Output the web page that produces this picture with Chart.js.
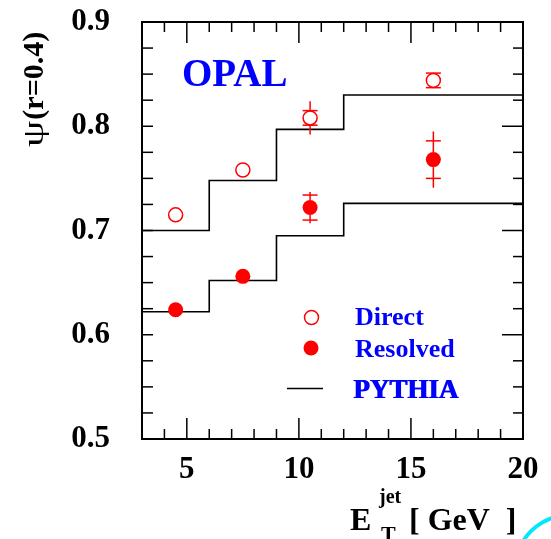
<!DOCTYPE html>
<html>
<head>
<meta charset="utf-8">
<script src="https://cdn.jsdelivr.net/npm/chart.js@4.4.0/dist/chart.umd.min.js"></script>
<style>
  html, body { margin: 0; padding: 0; background: #fff; }
  canvas { display: block; }
</style>
</head>
<body>
<canvas id="chart" width="551" height="539"></canvas>
<script>
// tick labels
const xTicks = [5, 10, 15, 20];
const yTicks = [0.5, 0.6, 0.7, 0.8, 0.9];

// measured points
const etJet = [4.5, 7.5, 10.5, 16];
const directPsi = [0.715, 0.758, 0.808, 0.844];
const directStat = [0, 0, 0.007, 0.007];
const directTot = [0, 0, 0.016, 0.007];
const resolvedPsi = [0.624, 0.656, 0.722, 0.768];
const resolvedStat = [0, 0, 0.012, 0.018];
const resolvedTot = [0, 0, 0.015, 0.027];

// PYTHIA histograms (bin edges and contents)
const binEdges = [3, 6, 9, 12, 20];
const pythiaDirect = [0.700, 0.748, 0.797, 0.830];
const pythiaResolved = [0.622, 0.652, 0.695, 0.726];

const RED = '#ff0000';
const BLUE = '#0000ff';
const SERIF = '"Liberation Serif", "DejaVu Serif", serif';

function stepData(vals) {
  // each edge starts its bin, last value repeated at the right edge
  return binEdges.map((e, i) => ({ x: e, y: vals[Math.min(i, vals.length - 1)] }));
}

function line(ctx, x1, y1, x2, y2) {
  ctx.beginPath();
  ctx.moveTo(x1, y1);
  ctx.lineTo(x2, y2);
  ctx.stroke();
}

// error bars: inner (stat) with crossbars, outer (total) plain line
const errorBars = {
  id: 'errorBars',
  afterDatasetsDraw(chart) {
    const ctx = chart.ctx;
    const xs = chart.scales.x, ys = chart.scales.y;
    const sets = [
      { psi: directPsi, stat: directStat, tot: directTot, r: 7 },
      { psi: resolvedPsi, stat: resolvedStat, tot: resolvedTot, r: 7.5 }
    ];
    ctx.save();
    ctx.strokeStyle = RED;
    ctx.lineWidth = 1.5;
    sets.forEach(s => {
      etJet.forEach((x, i) => {
        const px = xs.getPixelForValue(x);
        const py = ys.getPixelForValue(s.psi[i]);
        const up = ys.getPixelForValue(s.psi[i] + s.tot[i]);
        const dn = ys.getPixelForValue(s.psi[i] - s.tot[i]);
        if (py - up > s.r) line(ctx, px, py - s.r, px, up);
        if (dn - py > s.r) line(ctx, px, py + s.r, px, dn);
        if (s.stat[i] > 0) {
          const su = ys.getPixelForValue(s.psi[i] + s.stat[i]);
          const sd = ys.getPixelForValue(s.psi[i] - s.stat[i]);
          line(ctx, px - 7.5, su, px + 7.5, su);
          line(ctx, px - 7.5, sd, px + 7.5, sd);
        }
      });
    });
    ctx.restore();
  }
};

// frame, inside ticks and all the free text
const decorations = {
  id: 'decorations',
  afterDraw(chart) {
    const ctx = chart.ctx;
    const { left, right, top, bottom } = chart.chartArea;
    const xs = chart.scales.x, ys = chart.scales.y;
    ctx.save();

    // ticks
    ctx.strokeStyle = '#000';
    ctx.lineWidth = 1.5;
    for (let v = Math.ceil(xs.min); v <= xs.max; v++) {
      const px = xs.getPixelForValue(v);
      const len = v % 5 === 0 ? 21 : 10;
      line(ctx, px, bottom, px, bottom - len);
      line(ctx, px, top, px, top + len);
    }
    for (let i = 0; i <= 16; i++) {
      const py = ys.getPixelForValue(ys.min + i * 0.025);
      line(ctx, left, py, left + 11, py);
      line(ctx, right, py, right - (i % 4 === 0 ? 21 : 10), py);
    }

    // frame
    ctx.lineWidth = 2;
    ctx.strokeRect(left, top, right - left, bottom - top);

    // OPAL
    ctx.fillStyle = BLUE;
    ctx.textAlign = 'left';
    ctx.textBaseline = 'alphabetic';
    ctx.font = 'bold 39px ' + SERIF;
    ctx.fillText('OPAL', 182, 86);

    // legend
    ctx.strokeStyle = RED;
    ctx.lineWidth = 1.5;
    ctx.beginPath();
    ctx.arc(311.5, 317.5, 7, 0, Math.PI * 2);
    ctx.stroke();
    ctx.fillStyle = RED;
    ctx.beginPath();
    ctx.arc(311, 348, 7.5, 0, Math.PI * 2);
    ctx.fill();
    ctx.strokeStyle = '#000';
    ctx.lineWidth = 1.5;
    line(ctx, 287, 388.5, 323, 388.5);

    ctx.fillStyle = BLUE;
    ctx.font = 'bold 26px ' + SERIF;
    ctx.fillText('Direct', 355, 325);
    ctx.fillText('Resolved', 355, 357);
    ctx.font = 'bold 27px ' + SERIF;
    ctx.fillText('PYTHIA', 353, 398);
    ctx.fillText('PYTHIA', 354, 398);

    // x title
    ctx.fillStyle = '#000';
    ctx.font = 'bold 32px ' + SERIF;
    ctx.fillText('E', 350, 530);
    ctx.fillText('[ GeV  ]', 409, 530);
    ctx.font = 'bold 20px ' + SERIF;
    ctx.fillText('jet', 379, 503);
    ctx.font = 'bold 22px ' + SERIF;
    ctx.fillText('T', 381, 541);

    // y title, rotated, psi a bit wider like the symbol font
    ctx.save();
    ctx.translate(43, 147);
    ctx.rotate(-Math.PI / 2);
    ctx.font = '29px ' + SERIF;
    const w = ctx.measureText('\u03c8').width * 1.45;
    ctx.save();
    ctx.scale(1.45, 1);
    ctx.fillText('\u03c8', 0, 0);
    ctx.restore();
    ctx.font = 'bold 30px ' + SERIF;
    ctx.fillText('(r=0.4)', w + 1, 0);
    ctx.restore();

    // cyan arc in the corner
    ctx.strokeStyle = '#00e8ff';
    ctx.lineWidth = 4;
    ctx.beginPath();
    ctx.arc(570, 570, 55, Math.PI * 1.1, Math.PI * 1.55);
    ctx.stroke();

    ctx.restore();
  }
};

new Chart(document.getElementById('chart'), {
  type: 'scatter',
  data: {
    datasets: [
      {
        label: 'Direct',
        data: etJet.map((x, i) => ({ x: x, y: directPsi[i] })),
        pointStyle: 'circle',
        pointRadius: 7,
        pointBorderWidth: 1.5,
        pointBorderColor: RED,
        pointBackgroundColor: 'rgba(255,255,255,0)',
        order: 0
      },
      {
        label: 'Resolved',
        data: etJet.map((x, i) => ({ x: x, y: resolvedPsi[i] })),
        pointStyle: 'circle',
        pointRadius: 7.5,
        pointBorderWidth: 0,
        pointBackgroundColor: RED,
        order: 0
      },
      {
        type: 'line',
        label: 'PYTHIA',
        data: stepData(pythiaDirect),
        stepped: 'before',
        borderColor: '#000',
        borderWidth: 1.6,
        pointRadius: 0,
        fill: false,
        order: 1
      },
      {
        type: 'line',
        label: 'PYTHIA resolved',
        data: stepData(pythiaResolved),
        stepped: 'before',
        borderColor: '#000',
        borderWidth: 1.6,
        pointRadius: 0,
        fill: false,
        order: 1
      }
    ]
  },
  options: {
    responsive: false,
    animation: false,
    layout: { padding: { left: 0, right: 28, top: 22, bottom: 0 } },
    plugins: {
      legend: { display: false },
      tooltip: { enabled: false }
    },
    scales: {
      x: {
        type: 'linear',
        min: 3,
        max: 20,
        grid: { display: false, drawTicks: false },
        border: { display: false },
        afterBuildTicks: s => { s.ticks = xTicks.map(v => ({ value: v })); },
        afterFit: s => { s.height = 100; s.paddingLeft = 0; s.paddingRight = 0; },
        ticks: {
          color: '#000',
          padding: 12,
          maxRotation: 0,
          font: { family: SERIF, size: 31, weight: 'bold' }
        }
      },
      y: {
        type: 'linear',
        min: 0.5,
        max: 0.9,
        grid: { display: false, drawTicks: false },
        border: { display: false },
        afterBuildTicks: s => { s.ticks = yTicks.map(v => ({ value: v })); },
        afterFit: s => { s.width = 142; s.paddingTop = 0; s.paddingBottom = 0; },
        ticks: {
          color: '#000',
          padding: 32,
          font: { family: SERIF, size: 31, weight: 'bold' },
          callback: v => v.toFixed(1)
        }
      }
    }
  },
  plugins: [errorBars, decorations]
});
</script>
</body>
</html>
